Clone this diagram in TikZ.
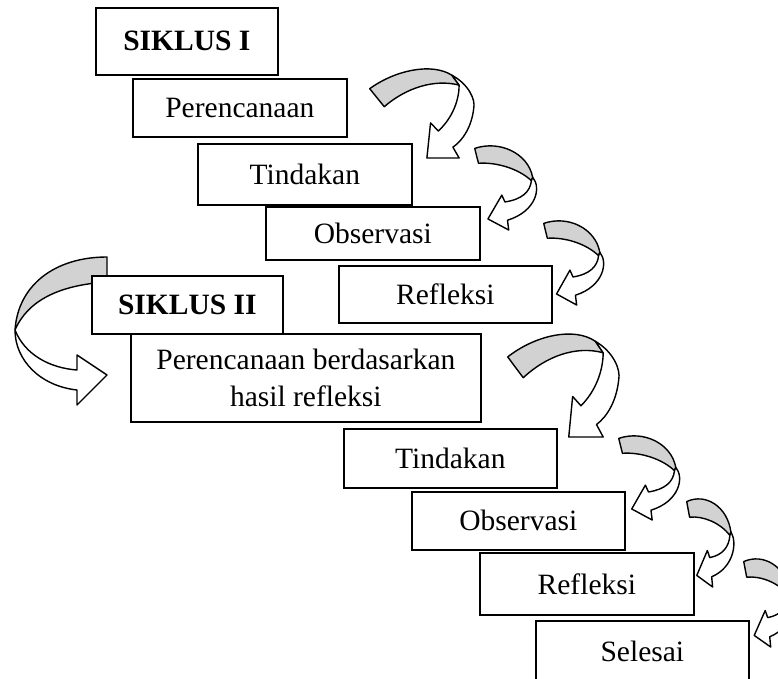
\documentclass[tikz,border=0pt]{standalone}
\usepackage{fontspec}
\setmainfont{Liberation Serif}
\usetikzlibrary{positioning}
\definecolor{bandgray}{RGB}{210,210,210}
\newcommand{\stagefont}{\fontsize{29.5}{37}\selectfont}
\tikzset{
  stagebox/.style={draw, line width=1.7pt, fill=white, font=\stagefont, anchor=north west, inner sep=0pt, align=center},
  bandback/.style={draw, line width=1.4pt, line join=round, fill=bandgray},
  bandfront/.style={draw, line width=1.4pt, line join=round, fill=white},
  widearrow/.pic={
    \path[bandback] (0,0.23) .. controls (0.25,0.02) and (0.6,-0.06) .. (0.79,0.08) -- (0.86,0.19)
      .. controls (0.62,0.12) and (0.35,0.22) .. (0.14,0.43) -- cycle;
    \path[bandfront] (0.79,0.08) .. controls (0.95,0.18) and (1.02,0.35) .. (1,0.45)
      .. controls (0.98,0.65) and (0.9,0.8) .. (0.8,0.88) -- (0.86,1) -- (0.55,1) -- (0.585,0.61) -- (0.66,0.7)
      .. controls (0.8,0.55) and (0.86,0.35) .. (0.86,0.19) -- cycle;
  },
  narrowarrow/.pic={
    \path[bandback] (0,0.04) .. controls (0.4,-0.06) and (0.85,0.1) .. (0.92,0.38) -- (0.9,0.42)
      .. controls (0.7,0.28) and (0.35,0.2) .. (0.06,0.215) -- cycle;
    \path[bandfront] (0.92,0.38) .. controls (1.06,0.5) and (0.98,0.78) .. (0.52,0.885) -- (0.54,1) -- (0.21,0.87)
      -- (0.43,0.59) -- (0.48,0.67) .. controls (0.75,0.64) and (0.88,0.55) .. (0.9,0.42) -- cycle;
  }
}
\begin{document}
\begin{tikzpicture}[x=1pt, y=-1pt]
\useasboundingbox (0,0) rectangle (778,679);
% back arrow from cycle I to cycle II
\path[bandback] (107,257) .. controls (55,257) and (18,285) .. (15,330)
  .. controls (28,300) and (60,285) .. (107,282) -- cycle;
\path[bandfront] (15,330) .. controls (15,360) and (40,386) .. (77,390) -- (77,405) -- (107,375) -- (77,355) -- (77,370)
  .. controls (50,368) and (25,355) .. (15,330) -- cycle;

\node[stagebox, minimum width=182pt, minimum height=67pt, font=\stagefont\bfseries] (siklus1) at (95,7) {SIKLUS I};
\node[stagebox, minimum width=214pt, minimum height=58pt] (plan1) at (132,78) {Perencanaan};
\node[stagebox, minimum width=214pt, minimum height=61pt] (act1) at (197,143) {Tindakan};
\node[stagebox, minimum width=214pt, minimum height=53pt] (obs1) at (265,206) {Observasi};
\node[stagebox, minimum width=213pt, minimum height=57pt] (refl1) at (338,265) {Refleksi};
\node[stagebox, minimum width=350pt, minimum height=88pt] (plan2) at (130,333) {Perencanaan berdasarkan\\hasil refleksi};
\node[stagebox, minimum width=191pt, minimum height=58pt, font=\stagefont\bfseries] (siklus2) at (91,275) {SIKLUS II};
\node[stagebox, minimum width=213pt, minimum height=59pt] (act2) at (343,428) {Tindakan};
\node[stagebox, minimum width=213pt, minimum height=58pt] (obs2) at (411,491) {Observasi};
\node[stagebox, minimum width=214pt, minimum height=62pt] (refl2) at (479,552) {Refleksi};
\node[stagebox, minimum width=213pt, minimum height=62pt] (done) at (535,620) {Selesai};

% curved arrows between the steps
\pic[xscale=104, yscale=90] at ([xshift=22pt, yshift=10pt]plan1.north east) {widearrow};
\pic[xscale=63, yscale=85] at ([xshift=62pt, yshift=-2pt]act1.north east) {narrowarrow};
\pic[xscale=61, yscale=85] at ([xshift=63pt, yshift=-14pt]obs1.north east) {narrowarrow};
\pic[xscale=111, yscale=104] at ([xshift=26pt]plan2.north east) {widearrow};
\pic[xscale=62, yscale=85] at ([xshift=61pt, yshift=-7pt]act2.north east) {narrowarrow};
\pic[xscale=48, yscale=89] at ([xshift=61pt, yshift=-7pt]obs2.north east) {narrowarrow};
\pic[xscale=50, yscale=89] at ([xshift=49pt, yshift=-6pt]refl2.north east) {narrowarrow};
\end{tikzpicture}
\end{document}
